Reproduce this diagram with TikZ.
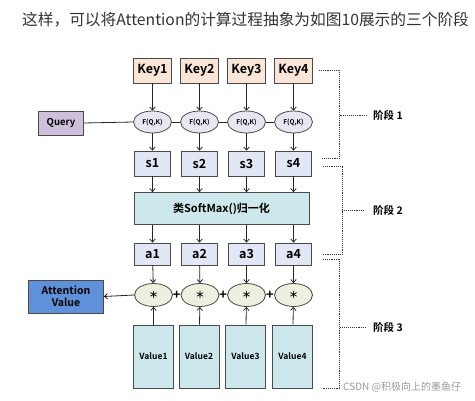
\documentclass[tikz,border=0pt]{standalone}
\usepackage{fontspec}
\setmainfont{Noto Sans CJK SC}[BoldFont={* Bold}]
\usepackage{tikz}
\usetikzlibrary{arrows.meta,positioning,calc,shapes.geometric}
\definecolor{keypeach}{HTML}{FBE5D6}
\definecolor{querylilac}{HTML}{CCC0DA}
\definecolor{fqkgray}{HTML}{E8E6F0}
\definecolor{scoreblue}{HTML}{E1E7F4}
\definecolor{normcyan}{HTML}{CDE8ED}
\definecolor{mulgreen}{HTML}{EBF1DE}
\definecolor{attblue}{HTML}{5F91DA}
\definecolor{edgegray}{HTML}{4A4A4A}
\definecolor{titleink}{HTML}{333333}

\begin{document}
\begin{tikzpicture}[x=1pt,y=-1pt,
  every node/.style={align=center,inner sep=1pt},
  keybox/.style={draw=edgegray,fill=keypeach,minimum width=38pt,minimum height=25pt,line width=0.8pt,font=\fontsize{12.5}{13}\selectfont\bfseries},
  querybox/.style={draw=edgegray,fill=querylilac,minimum width=45pt,minimum height=24pt,line width=0.8pt,font=\fontsize{9.5}{11}\selectfont\bfseries},
  fqk/.style={ellipse,draw=edgegray,fill=fqkgray,minimum width=38pt,minimum height=22pt,inner sep=0pt,line width=0.8pt,font=\fontsize{6.5}{7}\selectfont\bfseries},
  scorebox/.style={draw=edgegray,fill=scoreblue,minimum width=36pt,minimum height=25pt,line width=0.8pt,font=\fontsize{12.5}{13}\selectfont\bfseries},
  normbox/.style={draw=edgegray,fill=normcyan,minimum width=175pt,minimum height=32pt,line width=0.8pt,font=\fontsize{11}{12}\selectfont\bfseries},
  mul/.style={ellipse,draw=edgegray,fill=mulgreen,minimum width=38pt,minimum height=23pt,inner sep=0pt,line width=0.8pt,font=\fontsize{9.5}{10}\selectfont\bfseries},
  attbox/.style={draw=edgegray,fill=attblue,minimum width=75pt,minimum height=33pt,line width=0.8pt,font=\fontsize{10.5}{11.5}\selectfont\bfseries},
  valbox/.style={draw=edgegray,fill=normcyan,minimum width=40pt,minimum height=63pt,line width=0.8pt,font=\fontsize{8.5}{10}\selectfont\bfseries},
  plus/.style={font=\fontsize{13}{13}\selectfont\bfseries,inner sep=0pt},
  flow/.style={-{Straight Barb[length=3pt,width=5.5pt]},draw=black!85,line width=0.8pt},
  link/.style={draw=black!85,line width=0.8pt},
  brace/.style={draw=black!80,densely dotted,line width=0.9pt},
  stage/.style={font=\fontsize{10.5}{11}\selectfont\bfseries,anchor=west,inner sep=0pt}
]
  \useasboundingbox (0,0) rectangle (475,401);
  \node[anchor=west,inner sep=0pt,text=titleink,font=\fontsize{15.7}{16}\selectfont] (title) at (22,20) {这样，可以将Attention的计算过程抽象为如图10展示的三个阶段};
  % keys, scores
  \node[keybox] (k1) at (152.5,70.5) {Key1};
  \node[keybox] (k2) at (199.5,70.5) {Key2};
  \node[keybox] (k3) at (246.5,70.5) {Key3};
  \node[keybox] (k4) at (293.5,70.5) {Key4};
  \node[querybox] (q) at (61,123) {Query};
  \node[fqk] (f1) at (152.5,122) {F(Q,K)};
  \node[fqk] (f2) at (199.5,122) {F(Q,K)};
  \node[fqk] (f3) at (246.5,122) {F(Q,K)};
  \node[fqk] (f4) at (293.5,122) {F(Q,K)};
  \node[scorebox] (s1) at (152.5,163.5) {s1};
  \node[scorebox] (s2) at (199.5,163.5) {s2};
  \node[scorebox] (s3) at (246.5,163.5) {s3};
  \node[scorebox] (s4) at (293.5,163.5) {s4};
  % normalisation
  \node[normbox] (sm) at (221.5,208.5) {类SoftMax()归一化};
  \node[scorebox,minimum height=22pt] (a1) at (152.5,254) {a1};
  \node[scorebox,minimum height=22pt] (a2) at (199.5,254) {a2};
  \node[scorebox,minimum height=22pt] (a3) at (246.5,254) {a3};
  \node[scorebox,minimum height=22pt] (a4) at (293.5,254) {a4};
  % weighted sum
  \node[mul] (m1) at (153.5,295) {＊};
  \node[mul] (m2) at (200,295) {＊};
  \node[mul] (m3) at (246.5,295) {＊};
  \node[mul] (m4) at (293.5,295) {＊};
  \node[plus] (p1) at ($(m1.east)!0.5!(m2.west)$) {+};
  \node[plus] (p2) at ($(m2.east)!0.5!(m3.west)$) {+};
  \node[plus] (p3) at ($(m3.east)!0.5!(m4.west)$) {+};
  \node[attbox] (att) at (66,296.5) {Attention\\Value};
  \node[valbox] (v1) at (153.5,356.5) {Value1};
  \node[valbox] (v2) at (199,356.5) {Value2};
  \node[valbox] (v3) at (245.5,356.5) {Value3};
  \node[valbox] (v4) at (292.5,356.5) {Value4};
  % stages
  \node[stage] (st1) at (373,115.7) {阶段 1};
  \node[stage] (st2) at (373,210.7) {阶段 2};
  \node[stage] (st3) at (373,327) {阶段 3};
  \node[anchor=west,inner sep=0pt,text=black!40,font=\fontsize{10}{11}\selectfont] (mark) at (343,387) {CSDN @积极向上的墨鱼仔};
  \draw[flow] (k1) -- (f1);
  \draw[flow] (k2) -- (f2);
  \draw[flow] (k3) -- (f3);
  \draw[flow] (k4) -- (f4);
  \draw[link] (q.east) -- (f1.west);
  \draw[link] (f1.east) -- (f2.west);
  \draw[link] (f2.east) -- (f3.west);
  \draw[link] (f3.east) -- (f4.west);
  \draw[flow] (f1) -- (s1);
  \draw[flow] (f2) -- (s2);
  \draw[flow] (f3) -- (s3);
  \draw[flow] (f4) -- (s4);
  \draw[flow] (s1.south) -- (s1.south |- sm.north);
  \draw[flow] (s2.south) -- (s2.south |- sm.north);
  \draw[flow] (s3.south) -- (s3.south |- sm.north);
  \draw[flow] (s4.south) -- (s4.south |- sm.north);
  \draw[flow] (a1.north |- sm.south) -- (a1.north);
  \draw[flow] (a2.north |- sm.south) -- (a2.north);
  \draw[flow] (a3.north |- sm.south) -- (a3.north);
  \draw[flow] (a4.north |- sm.south) -- (a4.north);
  \draw[flow] (a1) -- (m1);
  \draw[flow] (a2) -- (m2);
  \draw[flow] (a3) -- (m3);
  \draw[flow] (a4) -- (m4);
  \draw[flow] (v1) -- (m1);
  \draw[flow] (v2) -- (m2);
  \draw[flow] (v3) -- (m3);
  \draw[flow] (v4) -- (m4);
  \draw[flow] (m1.west) -- (att.east);
  \draw[brace] ($(k4.east)+(6,0)$) -- ++(21,0) |- ($(s4.east)+(10,-5.5)$);
  \draw[brace] ($(st1.west)+(-6,0)$) -- ++(-27,0);
  \draw[brace] ($(s4.east)+(11,2.5)$) -- ++(20,0) |- ($(a4.east)+(11,0)$);
  \draw[brace] ($(st2.west)+(-9,0)$) -- ++(-22,0);
  \draw[brace] ($(a4.east)+(11,5.3)$) -- ++(17,0) |- ($(v4.south east)+(10,0.5)$);
  \draw[brace] ($(st3.west)+(-7,0)$) -- ++(-26,0);
\end{tikzpicture}
\end{document}
